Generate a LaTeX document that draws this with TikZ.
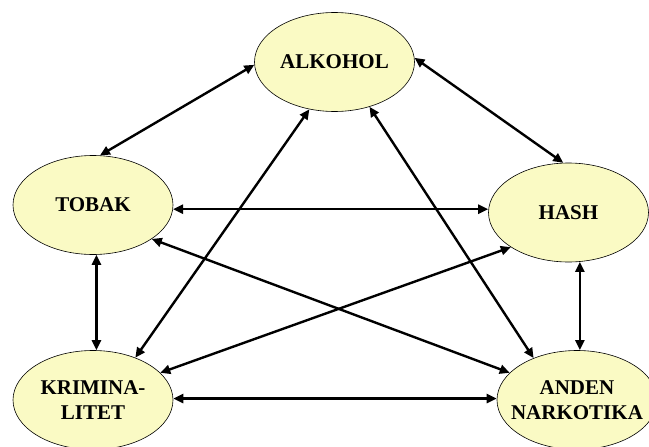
\documentclass[tikz,border=0pt]{standalone}
\usepackage{fontspec}
\setmainfont{Liberation Serif}
\usepackage{tikz}
\usetikzlibrary{shapes.geometric,arrows.meta}
\definecolor{pale}{RGB}{250,250,196}

\begin{document}
\begin{tikzpicture}
            [x=1pt,y=-1pt,
            drug/.style={ellipse,draw=black,line width=0.6pt,fill=pale,
                minimum width=160pt,minimum height=99pt,inner sep=0pt,
                align=center,font=\fontsize{21}{25}\selectfont\bfseries},
            link/.style={line width=2.4pt,{Triangle[length=10pt,width=9pt]}-{Triangle[length=10pt,width=9pt]}}]
            \useasboundingbox (0,0) rectangle (649,447);

            \node[drug] (alkohol) at (334.5,62) {ALKOHOL};
            \node[drug] (tobak) at (93,205) {TOBAK};
            \node[drug] (hash) at (568.5,212.5) {HASH};
            \node[drug] (krim) at (93,400) {KRIMINA-\\LITET};
            \node[drug,inner xsep=-10pt] (anden) at (577,400) {ANDEN\\NARKOTIKA};

            \draw[link] (alkohol.182) -- (tobak.82);
            \draw[link] (alkohol.3) -- (hash.96);
            \draw[link] (alkohol.242) -- (krim.45);
            \draw[link] (alkohol.308) -- (anden.136);
            \draw[link] (tobak.357) -- (tobak.357 -| hash.west);
            \draw[link] (tobak.330) -- (anden.158);
            \draw[link] (tobak.274) -- (tobak.274 |- krim.north);
            \draw[link] (hash.211) -- (krim.22);
            \draw[link] (hash.283) -- (hash.283 |- anden.north);
            \draw[link] (krim.1) -- (krim.1 -| anden.west);
        \end{tikzpicture}
\end{document}
